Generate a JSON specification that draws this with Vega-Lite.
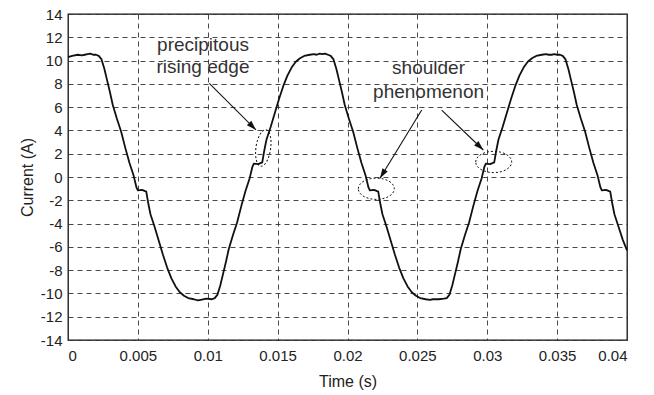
{
  "$schema": "https://vega.github.io/schema/vega-lite/v6.json",
  "width": 559,
  "height": 326,
  "autosize": "none",
  "padding": {"left": 68, "top": 14, "right": 27, "bottom": 55},
  "background": "white",
  "config": {
    "view": {"stroke": "#111", "strokeWidth": 1.3},
    "font": "Liberation Sans",
    "axis": {
      "labelFont": "Liberation Sans",
      "titleFont": "Liberation Sans",
      "labelFontSize": 15,
      "titleFontSize": 16,
      "titleFontWeight": "normal",
      "labelColor": "#222",
      "titleColor": "#222",
      "labelOverlap": false,
      "labelBound": false,
      "domain": false,
      "ticks": false,
      "grid": true,
      "gridColor": "#333",
      "gridDash": [5, 4],
      "gridWidth": 0.9,
      "gridOpacity": 1
    }
  },
  "datasets": {
    "current": [
      {"t": 0.0, "i": 10.3}, {"t": 0.0003, "i": 10.4}, {"t": 0.0007, "i": 10.5}, {"t": 0.001, "i": 10.45},
      {"t": 0.0012, "i": 10.5}, {"t": 0.0014, "i": 10.55}, {"t": 0.0016, "i": 10.6}, {"t": 0.0018, "i": 10.5}, {"t": 0.002, "i": 10.5},
      {"t": 0.0022, "i": 10.4}, {"t": 0.0024, "i": 10.1}, {"t": 0.0026, "i": 9.3}, {"t": 0.0028, "i": 8.3},
      {"t": 0.003, "i": 7.3}, {"t": 0.0032, "i": 6.2}, {"t": 0.0035, "i": 5.0}, {"t": 0.0038, "i": 3.9},
      {"t": 0.0041, "i": 2.5}, {"t": 0.0044, "i": 1.2}, {"t": 0.0047, "i": 0.1}, {"t": 0.0049, "i": -0.9},
      {"t": 0.005, "i": -1.15}, {"t": 0.0053, "i": -1.1}, {"t": 0.0056, "i": -1.25}, {"t": 0.00575, "i": -2.3},
      {"t": 0.0059, "i": -3.2}, {"t": 0.0062, "i": -4.3}, {"t": 0.0065, "i": -5.5}, {"t": 0.0068, "i": -6.7},
      {"t": 0.0071, "i": -7.8}, {"t": 0.0074, "i": -8.7}, {"t": 0.0077, "i": -9.4}, {"t": 0.008, "i": -9.9},
      {"t": 0.0083, "i": -10.2}, {"t": 0.0086, "i": -10.4}, {"t": 0.009, "i": -10.5}, {"t": 0.0093, "i": -10.6},
      {"t": 0.0095, "i": -10.55}, {"t": 0.0099, "i": -10.45}, {"t": 0.0103, "i": -10.5}, {"t": 0.0105, "i": -10.4},
      {"t": 0.0107, "i": -10.1}, {"t": 0.0109, "i": -9.3}, {"t": 0.0111, "i": -8.3}, {"t": 0.0113, "i": -7.3},
      {"t": 0.0115, "i": -6.2}, {"t": 0.0118, "i": -5.0}, {"t": 0.0121, "i": -3.9}, {"t": 0.0124, "i": -2.5},
      {"t": 0.0127, "i": -1.2}, {"t": 0.013, "i": -0.1}, {"t": 0.0132, "i": 0.9}, {"t": 0.0133, "i": 1.15},
      {"t": 0.0136, "i": 1.1}, {"t": 0.0139, "i": 1.25}, {"t": 0.01405, "i": 2.3}, {"t": 0.0142, "i": 3.2},
      {"t": 0.0145, "i": 4.3}, {"t": 0.0148, "i": 5.5}, {"t": 0.0151, "i": 6.7}, {"t": 0.0154, "i": 7.8},
      {"t": 0.0157, "i": 8.7}, {"t": 0.016, "i": 9.4}, {"t": 0.0163, "i": 9.9}, {"t": 0.0166, "i": 10.2},
      {"t": 0.0169, "i": 10.4}, {"t": 0.0173, "i": 10.5}, {"t": 0.0176, "i": 10.55},
      {"t": 0.0178, "i": 10.5}, {"t": 0.018, "i": 10.6}, {"t": 0.0182, "i": 10.55}, {"t": 0.0184, "i": 10.6}, {"t": 0.0186, "i": 10.5},
      {"t": 0.0188, "i": 10.4}, {"t": 0.019, "i": 10.1}, {"t": 0.0192, "i": 9.3}, {"t": 0.0194, "i": 8.3},
      {"t": 0.0196, "i": 7.3}, {"t": 0.0198, "i": 6.2}, {"t": 0.0201, "i": 5.0}, {"t": 0.0204, "i": 3.9},
      {"t": 0.0207, "i": 2.5}, {"t": 0.021, "i": 1.2}, {"t": 0.0213, "i": 0.1}, {"t": 0.0215, "i": -0.9},
      {"t": 0.0216, "i": -1.15}, {"t": 0.0219, "i": -1.1}, {"t": 0.0222, "i": -1.25}, {"t": 0.02235, "i": -2.3},
      {"t": 0.0225, "i": -3.2}, {"t": 0.0228, "i": -4.3}, {"t": 0.0231, "i": -5.5}, {"t": 0.0234, "i": -6.7},
      {"t": 0.0237, "i": -7.8}, {"t": 0.024, "i": -8.7}, {"t": 0.0243, "i": -9.4}, {"t": 0.0246, "i": -9.9},
      {"t": 0.0249, "i": -10.2}, {"t": 0.0252, "i": -10.4}, {"t": 0.0256, "i": -10.5}, {"t": 0.0259, "i": -10.55},
      {"t": 0.0261, "i": -10.5}, {"t": 0.0265, "i": -10.5}, {"t": 0.0269, "i": -10.45}, {"t": 0.0271, "i": -10.4},
      {"t": 0.0273, "i": -10.1}, {"t": 0.0275, "i": -9.3}, {"t": 0.0277, "i": -8.3}, {"t": 0.0279, "i": -7.3},
      {"t": 0.0281, "i": -6.2}, {"t": 0.0284, "i": -5.0}, {"t": 0.0287, "i": -3.9}, {"t": 0.029, "i": -2.5},
      {"t": 0.0293, "i": -1.2}, {"t": 0.0296, "i": -0.1}, {"t": 0.0298, "i": 0.9}, {"t": 0.0299, "i": 1.15},
      {"t": 0.0302, "i": 1.1}, {"t": 0.0305, "i": 1.25}, {"t": 0.03065, "i": 2.3}, {"t": 0.0308, "i": 3.2},
      {"t": 0.0311, "i": 4.3}, {"t": 0.0314, "i": 5.5}, {"t": 0.0317, "i": 6.7}, {"t": 0.032, "i": 7.8},
      {"t": 0.0323, "i": 8.7}, {"t": 0.0326, "i": 9.4}, {"t": 0.0329, "i": 9.9}, {"t": 0.0332, "i": 10.2},
      {"t": 0.0335, "i": 10.4}, {"t": 0.0339, "i": 10.5}, {"t": 0.0342, "i": 10.55},
      {"t": 0.0344, "i": 10.5}, {"t": 0.0346, "i": 10.5}, {"t": 0.0348, "i": 10.55}, {"t": 0.035, "i": 10.5}, {"t": 0.0352, "i": 10.5},
      {"t": 0.0354, "i": 10.4}, {"t": 0.0356, "i": 10.1}, {"t": 0.0358, "i": 9.3}, {"t": 0.036, "i": 8.3},
      {"t": 0.0362, "i": 7.3}, {"t": 0.0364, "i": 6.2}, {"t": 0.0367, "i": 5.0}, {"t": 0.037, "i": 3.9},
      {"t": 0.0373, "i": 2.5}, {"t": 0.0376, "i": 1.2}, {"t": 0.0379, "i": 0.1}, {"t": 0.0381, "i": -0.9},
      {"t": 0.0382, "i": -1.15}, {"t": 0.0385, "i": -1.1}, {"t": 0.0388, "i": -1.25}, {"t": 0.03895, "i": -2.3},
      {"t": 0.0391, "i": -3.2}, {"t": 0.0394, "i": -4.3}, {"t": 0.0397, "i": -5.4}, {"t": 0.04, "i": -6.3}
    ],
    "labels": [
      {"t": 0.00966, "v": 10.82, "text": "precipitous"},
      {"t": 0.00966, "v": 8.93, "text": "rising edge"},
      {"t": 0.0258, "v": 8.85, "text": "shoulder"},
      {"t": 0.0258, "v": 6.76, "text": "phenomenon"}
    ],
    "arrows": [
      {"t": 0.010111, "v": 8.05, "t2": 0.013453, "v2": 4.04, "dir": 135},
      {"t": 0.02531, "v": 5.75, "t2": 0.022326, "v2": -0.11, "dir": 211.4},
      {"t": 0.02674, "v": 5.75, "t2": 0.029718, "v2": 2.32, "dir": 133.9}
    ],
    "tallEllipse": [
      {"t": 0.013975, "v": 2.49}
    ],
    "wideEllipses": [
      {"t": 0.022061, "v": -1.01},
      {"t": 0.030462, "v": 1.29}
    ]
  },
  "layer": [
    {
      "data": {"name": "current"},
      "mark": {"type": "line", "color": "#111", "strokeWidth": 1.8, "strokeJoin": "round"},
      "encoding": {
        "x": {
          "field": "t", "type": "quantitative",
          "scale": {"domain": [0, 0.04], "nice": false, "zero": false},
          "axis": {
            "title": "Time (s)",
            "values": [0, 0.005, 0.01, 0.015, 0.02, 0.025, 0.03, 0.035, 0.04],
            "tickCount": 40,
            "labelExpr": "toString(datum.value)",
            "labelPadding": 8,
            "titleBaseline": "middle",
            "titleY": 41
          }
        },
        "y": {
          "field": "i", "type": "quantitative",
          "scale": {"domain": [-14, 14], "nice": false, "zero": false},
          "axis": {
            "title": "Current (A)",
            "values": [-14, -12, -10, -8, -6, -4, -2, 0, 2, 4, 6, 8, 10, 12, 14],
            "tickCount": 40,
            "labelExpr": "toString(datum.value)",
            "labelPadding": 6,
            "titleBaseline": "middle",
            "titleX": -41
          }
        }
      }
    },
    {
      "data": {"name": "arrows"},
      "mark": {"type": "rule", "color": "#111", "strokeWidth": 1.1},
      "encoding": {
        "x": {"field": "t", "type": "quantitative"},
        "y": {"field": "v", "type": "quantitative"},
        "x2": {"field": "t2"},
        "y2": {"field": "v2"}
      }
    },
    {
      "data": {"name": "arrows"},
      "mark": {"type": "point", "shape": "M0,0 L-0.32,1 L0.32,1 Z", "size": 380, "filled": true, "color": "#111", "opacity": 1},
      "encoding": {
        "x": {"field": "t2", "type": "quantitative"},
        "y": {"field": "v2", "type": "quantitative"},
        "angle": {"field": "dir", "type": "quantitative", "scale": null}
      }
    },
    {
      "data": {"name": "tallEllipse"},
      "mark": {"type": "point", "shape": "M0,-1 A0.4,1 0 1,1 0,1 A0.4,1 0 1,1 0,-1 Z", "size": 1350, "filled": false, "color": "#111", "strokeWidth": 1, "strokeDash": [2, 2], "angle": 8, "opacity": 1},
      "encoding": {
        "x": {"field": "t", "type": "quantitative"},
        "y": {"field": "v", "type": "quantitative"}
      }
    },
    {
      "data": {"name": "wideEllipses"},
      "mark": {"type": "point", "shape": "M-1,0 A1,0.59 0 1,1 1,0 A1,0.59 0 1,1 -1,0 Z", "size": 1296, "filled": false, "color": "#111", "strokeWidth": 1, "strokeDash": [2, 2], "opacity": 1},
      "encoding": {
        "x": {"field": "t", "type": "quantitative"},
        "y": {"field": "v", "type": "quantitative"}
      }
    },
    {
      "data": {"name": "labels"},
      "mark": {"type": "text", "font": "Liberation Sans", "fontSize": 19, "align": "center", "baseline": "alphabetic", "color": "#333"},
      "encoding": {
        "x": {"field": "t", "type": "quantitative"},
        "y": {"field": "v", "type": "quantitative"},
        "text": {"field": "text"}
      }
    }
  ]
}
